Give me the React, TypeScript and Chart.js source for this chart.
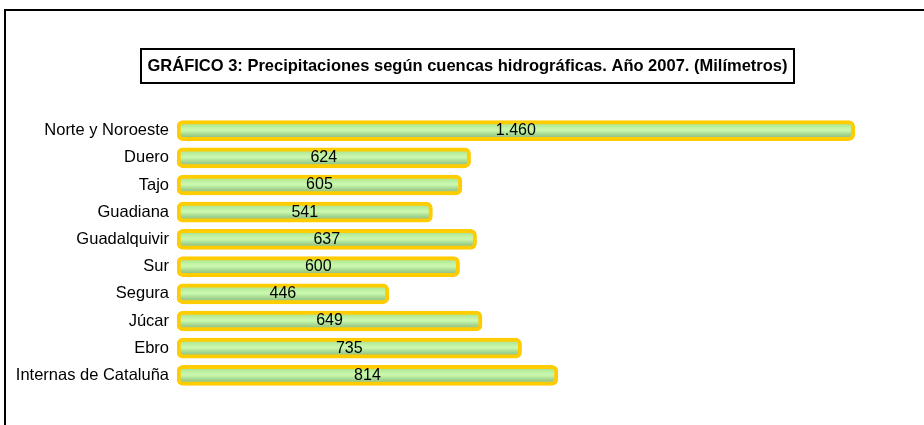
import React, { useEffect, useRef } from "react";
import { Chart, registerables } from "chart.js";

Chart.register(...registerables);

const categories = [
  "Norte y Noroeste",
  "Duero",
  "Tajo",
  "Guadiana",
  "Guadalquivir",
  "Sur",
  "Segura",
  "Júcar",
  "Ebro",
  "Internas de Cataluña",
];
const values = [1460, 624, 605, 541, 637, 600, 446, 649, 735, 814];
const valueLabels = ["1.460", "624", "605", "541", "637", "600", "446", "649", "735", "814"];
const chartTitle =
  "GRÁFICO 3: Precipitaciones según cuencas hidrográficas. Año 2007. (Milímetros)";

const FONT = '"Liberation Sans", Arial, sans-serif';

const framePlugin = {
  id: "frameAndTitle",
  beforeDraw(chart: any) {
    const c = chart.ctx;
    c.save();
    c.fillStyle = "#ffffff";
    c.fillRect(0, 0, chart.width, chart.height);
    c.strokeStyle = "#000000";
    c.lineWidth = 2;
    c.strokeRect(5, 10, chart.width + 20, chart.height + 20);
    c.lineWidth = 2;
    c.strokeRect(141, 49, 653, 34);
    c.font = "bold 16.5px " + FONT;
    c.fillStyle = "#000000";
    c.textAlign = "center";
    c.textBaseline = "middle";
    c.fillText(chartTitle, 467.5, 66.5);
    c.restore();
  },
};

const labelPlugin = {
  id: "barLabels",
  afterDatasetsDraw(chart: any) {
    const c = chart.ctx;
    const meta = chart.getDatasetMeta(0);
    c.save();
    c.font = "16px " + FONT;
    c.fillStyle = "#000000";
    c.textAlign = "center";
    c.textBaseline = "middle";
    meta.data.forEach((el: any, i: number) => {
      const cx = (el.x + el.base) / 2;
      c.fillText(valueLabels[i], cx, el.y);
    });
    c.restore();
  },
};

export default function App() {
  const ref = useRef<HTMLCanvasElement | null>(null);

  useEffect(() => {
    if (!ref.current) return;
    const chart = new Chart(ref.current, {
      type: "bar",
      data: {
        labels: categories,
        datasets: [
          {
            data: values,
            base: -15,
            barThickness: 20,
            borderWidth: 4,
            borderColor: "#FFCC00",
            borderRadius: 6,
            borderSkipped: false,
            backgroundColor: (ctx: any) => {
              const ch = ctx.chart;
              const ys = ch.scales && ch.scales.y;
              if (!ys || ctx.type !== "data") return "#c0eea6";
              const yc = ys.getPixelForValue(ctx.dataIndex);
              if (!isFinite(yc)) return "#c0eea6";
              const g = ch.ctx.createLinearGradient(0, yc - 6, 0, yc + 6);
              g.addColorStop(0, "#b0e898");
              g.addColorStop(0.25, "#c0f2a4");
              g.addColorStop(0.45, "#ccf8b0");
              g.addColorStop(0.6, "#bcee a2".replace(" ", ""));
              g.addColorStop(0.8, "#a6d892");
              g.addColorStop(1, "#98c888");
              return g;
            },
          } as any,
        ],
      },
      options: {
        indexAxis: "y",
        responsive: false,
        animation: false,
        devicePixelRatio: 1,
        layout: { padding: { left: 0, right: 5, top: 117, bottom: 36 } },
        plugins: {
          legend: { display: false },
          tooltip: { enabled: false },
          title: { display: false },
        },
        scales: {
          x: {
            display: false,
            min: -15,
            max: 1600,
          },
          y: {
            grid: { display: false, drawTicks: false },
            border: { display: false },
            ticks: {
              color: "#000000",
              padding: 8,
              font: { family: FONT, size: 16.5 },
            },
            afterFit: (axis: any) => {
              axis.width = 177;
            },
          },
        },
      },
      plugins: [framePlugin, labelPlugin],
    });
    return () => chart.destroy();
  }, []);

  return (
    <div style={{ position: "absolute", left: 0, top: 0, width: 924, height: 425 }}>
      <canvas ref={ref} width={924} height={425} style={{ width: 924, height: 425 }} />
    </div>
  );
}
